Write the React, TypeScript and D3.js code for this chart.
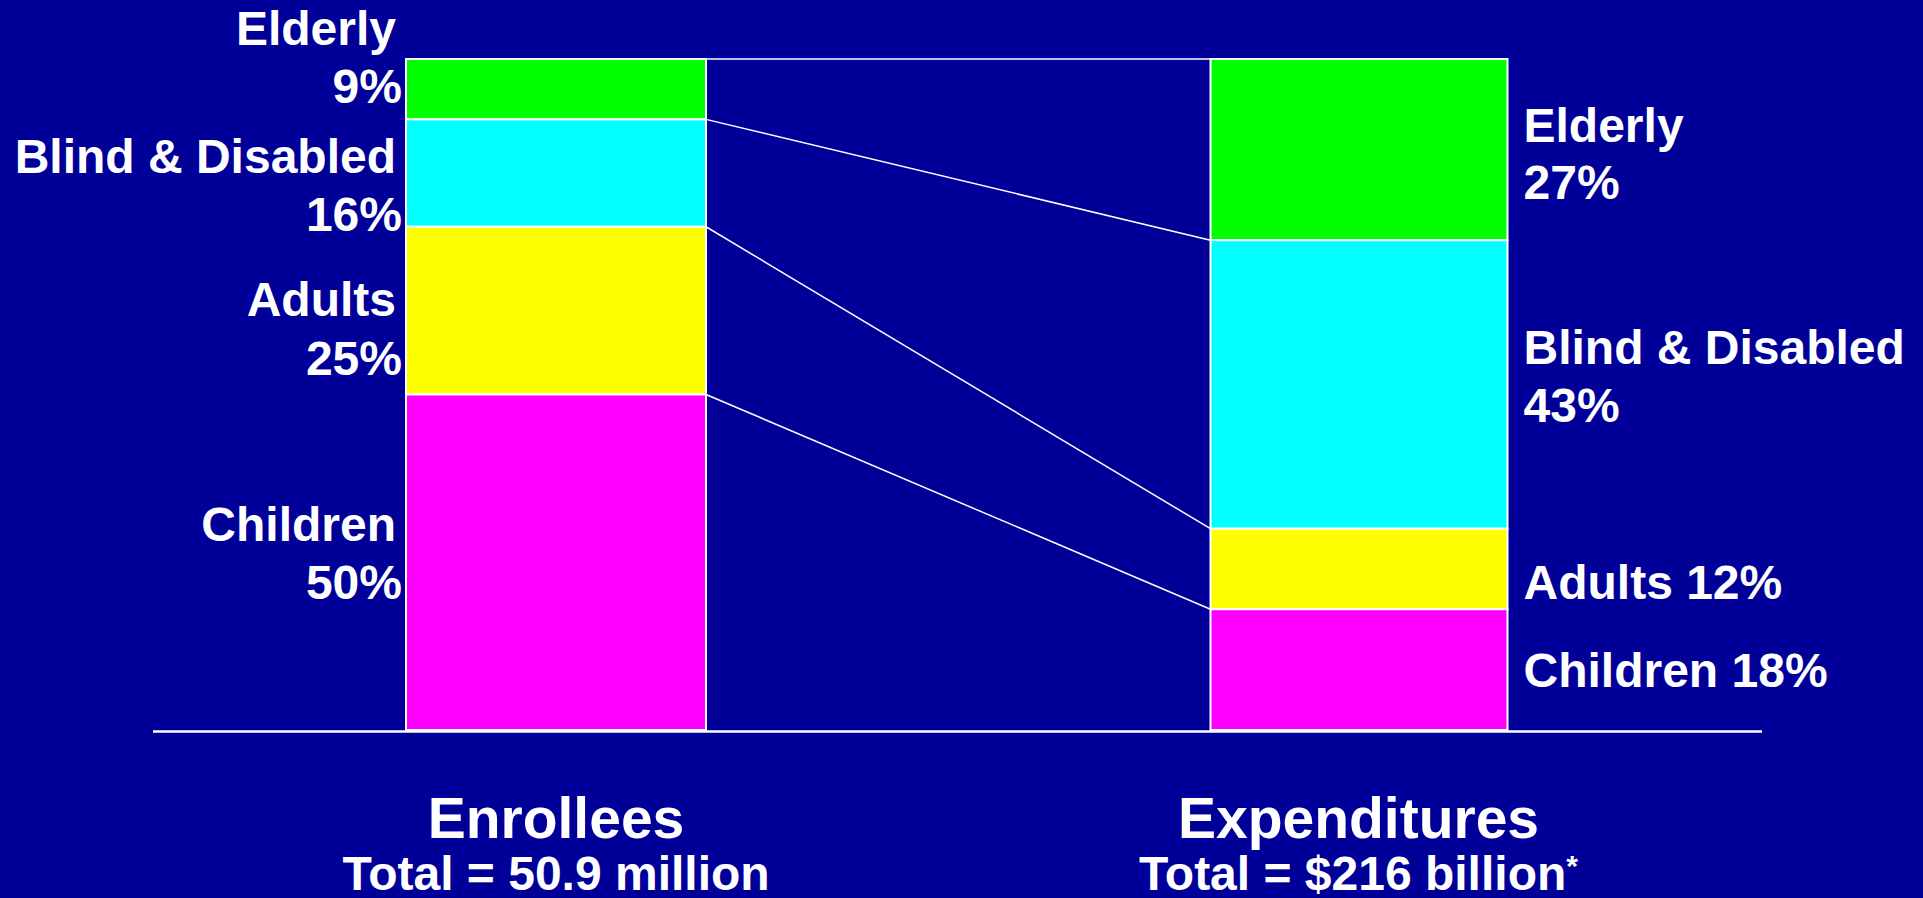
import React, { useEffect } from "react";
import * as d3 from "d3";

// ---- data ----
const categories = ["Elderly", "Blind & Disabled", "Adults", "Children"];
const enrolleeShares = [9, 16, 25, 50];
const expenditureShares = [27, 43, 12, 18];
const groups = ["Enrollees", "Expenditures"];
const groupTotals = ["Total = 50.9 million", "Total = $216 billion"];
const footnoteMark = "*";
const segmentColors = ["#00FF00", "#00FFFF", "#FFFF00", "#FF00FF"];

// ---- layout ----
const W = 1923;
const H = 898;
const BG = "#000099";
const FONT = "'Liberation Sans', Arial, Helvetica, sans-serif";
const barWidth = 300;
const labelSize = 48;
const titleSize = 57;
// left labels: [nameBaseline, pctBaseline]
const leftLabelY = [
  [45, 103],
  [173, 231],
  [316, 375],
  [541, 599],
];
// right labels: baselines, single-line when only one value
const rightLabelY = [[142, 199], [364, 422], [599], [687]];

function cumulative(vals: number[]) {
  let acc = 0;
  return vals.map((v) => {
    const s = acc;
    acc += v;
    return [s, acc];
  });
}

export default function App() {
  useEffect(() => {
    document.body.style.margin = "0";
    document.body.style.background = BG;
  }, []);

  const y = d3.scaleLinear().domain([0, 100]).range([59, 730]);
  const x = d3.scalePoint<string>().domain(groups).range([556, 1358.5]);

  const left = cumulative(enrolleeShares);
  const right = cumulative(expenditureShares);

  const lx0 = x(groups[0])! - barWidth / 2;
  const lx1 = x(groups[0])! + barWidth / 2;
  const rx0 = x(groups[1])! - barWidth / 2 + 2;
  const rx1 = x(groups[1])! + barWidth / 2 - 1;

  const boundaries = [0, ...left.slice(0, -1).map((d) => d[1])];
  const rBoundaries = [0, ...right.slice(0, -1).map((d) => d[1])];

  return (
    <svg
      width={W}
      height={H}
      style={{ position: "absolute", left: 0, top: 0, display: "block" }}
      fontFamily={FONT}
      fontWeight="bold"
    >
      <rect x={0} y={0} width={W} height={H} fill={BG} />

      {/* connector lines */}
      {boundaries.map((b, i) => (
        <line
          key={"c" + i}
          x1={lx1}
          y1={y(b)}
          x2={rx0}
          y2={y(rBoundaries[i])}
          stroke="#fff"
          strokeWidth={1.5}
        />
      ))}

      {/* left bar */}
      {left.map(([a, b], i) => (
        <rect
          key={"l" + i}
          x={lx0}
          y={y(a)}
          width={lx1 - lx0}
          height={y(b) - y(a)}
          fill={segmentColors[i]}
          stroke="#fff"
          strokeWidth={2}
        />
      ))}
      {/* right bar */}
      {right.map(([a, b], i) => (
        <rect
          key={"r" + i}
          x={rx0}
          y={y(a)}
          width={rx1 - rx0}
          height={y(b) - y(a)}
          fill={segmentColors[i]}
          stroke="#fff"
          strokeWidth={2}
        />
      ))}

      {/* baseline */}
      <line x1={153} x2={1762} y1={731.5} y2={731.5} stroke="#fff" strokeWidth={2.5} />

      {/* left labels */}
      {categories.map((c, i) => (
        <g key={"ll" + i} fill="#fff" fontSize={labelSize} textAnchor="end">
          <text x={lx0 - 10} y={leftLabelY[i][0]}>
            {c}
          </text>
          <text x={lx0 - 4} y={leftLabelY[i][1]}>
            {enrolleeShares[i]}%
          </text>
        </g>
      ))}

      {/* right labels */}
      {categories.map((c, i) => (
        <g key={"rl" + i} fill="#fff" fontSize={labelSize}>
          {rightLabelY[i].length === 2 ? (
            <>
              <text x={rx1 + 16} y={rightLabelY[i][0]}>
                {c}
              </text>
              <text x={rx1 + 16} y={rightLabelY[i][1]}>
                {expenditureShares[i]}%
              </text>
            </>
          ) : (
            <text x={rx1 + 16} y={rightLabelY[i][0]}>
              {c} {expenditureShares[i]}%
            </text>
          )}
        </g>
      ))}

      {/* group titles */}
      {groups.map((g, i) => (
        <g key={"t" + i} fill="#fff" textAnchor="middle">
          <text x={x(g)!} y={838} fontSize={titleSize}>
            {g}
          </text>
          <text x={x(g)!} y={890} fontSize={labelSize}>
            {groupTotals[i]}
            {i === 1 ? (
              <tspan fontSize={30} dy={-14}>
                {footnoteMark}
              </tspan>
            ) : null}
          </text>
        </g>
      ))}
    </svg>
  );
}
